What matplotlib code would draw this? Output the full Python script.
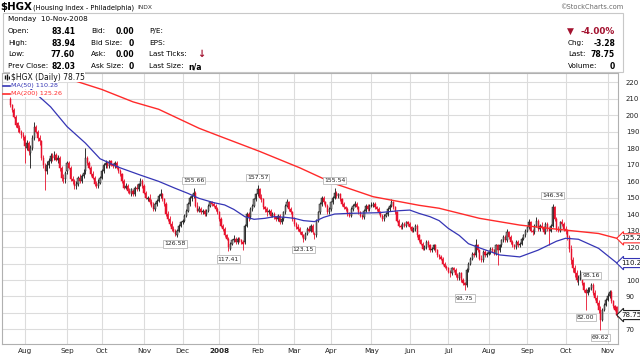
import numpy as np
import pandas as pd
import matplotlib
matplotlib.use('Agg')
import matplotlib.pyplot as plt
import matplotlib.transforms as mtransforms
from matplotlib.patches import Rectangle

# ---------------- data ----------------
start_date = '2007-07-20'
end_date = '2008-11-10'
holidays = ['2007-09-03', '2007-11-22', '2007-12-25', '2008-01-01', '2008-01-21',
            '2008-02-18', '2008-03-21', '2008-05-26', '2008-07-04', '2008-09-01']

open_ = [210,206,203,199,195,192,190,188,187,180,
         183,177,180,186,193,190,186,184,174,169,
         166,170,172,175,174,176,173,174,168,162,
         161,166,171,168,161,160,157,158,162,160,
         163,166,174,171,168,164,162,158,157,159,
         162,166,170,171,169,172,170,169,171,168,
         166,164,160,156,157,154,152,154,152,156,
         155,158,160,157,153,149,150,147,145,143,
         146,148,151,152,149,146,140,137,134,131,
         130,127,130,133,135,136,139,142,146,150,
         151,153,145,142,143,141,142,140,142,145,
         147,146,145,143,141,137,133,131,127,125,
         119,122,124,125,123,125,124,123,123,133,
         140,138,143,145,149,152,155,150,149,144,
         143,141,142,139,140,138,137,139,135,137,
         141,145,147,143,141,137,134,132,131,129,
         127,125,128,131,130,133,128,127,136,141,
         146,150,147,145,141,143,147,150,153,151,
         152,149,146,144,143,140,139,143,145,146,
         144,141,139,138,142,145,143,145,145,146,
         144,143,141,139,137,139,140,143,145,147,
         144,141,136,133,132,134,133,135,134,132,
         130,131,133,127,124,122,119,120,123,121,
         118,119,121,118,115,114,113,110,108,107,
         105,104,107,106,103,101,104,100,98,97,
         106,110,113,116,115,121,118,113,112,117,
         115,116,117,119,118,116,121,118,121,124,
         126,124,129,126,123,121,120,123,121,122,
         125,127,130,132,135,130,129,133,136,131,
         133,132,129,134,131,130,133,144,137,131,
         130,135,134,131,130,126,119,112,107,104,
         100,101,103,98,94,92,94,95,97,92,
         89,86,82,76,82,85,88,90,93,87,
         84,83.41]

high = [211,207,204,200,196,194,191,190,188,185,
        184,182,188,195.5,194,191,188,185,176,171,
        172,174,177,177,178,177,176,175,169,164,
        166,172,172,169,163,161,160,163,164,164,
        167,180,175,172,169,166,163,160,161,163,
        167,171,173,172,173,173,171,172,172,169,
        167,165,161,159,158,156,156,155,157,158,
        159,162,161,158,154,151,152,149,147,147,
        149,152,155,153,150,147,142,139,136,133,
        131,131,134,136,137,140,143,147,151,152,
        155.66,154,147,145,144,143,143,143,146,148,
        148,147,146,144,142,138,134,132,128,126,
        123,125,127,126,126,126,125,124,134,141,
        141,144,146,150,153,157.57,156,152,150,145,
        144,143,143,141,141,139,140,140,138,142,
        146,149,148,144,142,138,135,134,132,130,
        128,129,132,133,134,134,129,137,142,147,
        151,151,148,146,144,148,151,155.54,154,153,
        153,150,147,145,144,141,144,146,148,147,
        145,142,140,143,146,146,146,147,147,147,
        145,144,142,140,140,141,144,146,149,148,
        145,142,137,134,135,135,136,136,135,133,
        132,134,134,128,125,123,121,124,124,122,
        120,122,122,119,116,115,114,111,109,108,
        106,108,108,107,104,105,105,101,99,107,
        111,114,117,117,125,122,119,115,118,118,
        117,118,120,120,119,122,122,122,125,127,
        127,131,130,127,124,122,124,124,123,126,
        128,131,133,137,136,131,134,138,137,134,
        135,133,135,135,132,134,146.34,145,138,133,
        136,137,135,133,131,127,121,114,109,106,
        103,106,104,99,95,96,96,98.16,98,94,
        91,88,84,83,86,89,92,94,94,88,
        85,83.94]

low = [205,202,198,193,190,189,186,185,171,179,
       176,168,179,185,189,184,182,173,168,154.5,
       164,168,171,172,173,172,171,166,160,159,
       159,164,167,160,158,155,155,157,159,159,
       162,164,170,167,163,161,157,155.5,156,158,
       161,165,168,168,168,169,168,168,167,165,
       163,159,155,155,153,152,151,151,151,154,
       154,157,156,152,149,148,146,144,142,142,
       145,147,150,148,145,139,136,133,130,129,
       126.58,126,129,132,134,135,138,141,145,148,
       150,144,141,141,140,140,139,139,141,144,
       145,144,142,140,136,132,130,126,124,117.41,
       118,121,123,122,122,123,122,118,122,132,
       136,137,142,144,148,151,149,147,143,141,
       139,140,138,138,137,136,136,134,134,136,
       140,144,142,140,136,133,131,130,128,126,
       123.15,124,127,129,129,128,125,126,135,140,
       145,146,144,140,140,142,146,149,150,150,
       148,145,143,142,139,138,138,142,144,143,
       140,138,137,137,141,142,142,144,144,143,
       142,140,138,136,136,138,139,142,144,143,
       140,135,132,131,131,132,132,133,131,129,
       129,130,126,123,121,118,118,119,120,117,
       117,118,117,114,113,112,109,107,106,104,
       102,103,105,102,100,100,99,97,93.75,96,
       105,109,112,114,114,117,112,111,111,114,
       114,115,116,117,115,115,109,117,120,123,
       123,123,125,122,120,119,119,120,120,121,
       124,126,129,131,129,127,128,132,130,130,
       131,128,128,130,121,129,132,136,130,129,
       129,133,130,128,124,117,110,105,102,99,
       97,100,97,93,82.00,91,93,94,91,88,
       85,80,69.62,75,81,84,87,89,86,83,
       81,77.60]

close = [206,203,199,194,192,190,188,187,181,183,
         178,180,186,193,190,186,184,174,170,166,
         170,172,175,174,176,173,174,168,162,161,
         165,171,168,161,160,157,158,162,160,163,
         165,174,171,168,164,162,158,157,159,162,
         166,170,171,169,172,170,169,171,168,166,
         164,160,156,157,154,153,155,152,156,155,
         158,160,157,153,150,150,147,145,143,146,
         148,151,152,149,146,140,137,134,131,130,
         128,130,133,135,136,139,142,146,150,151,
         153,145,142,143,141,142,140,142,145,147,
         146,145,143,141,137,133,131,127,125,120,
         122,124,125,123,125,124,123,122,133,140,
         138,143,145,149,152,155,150,149,144,143,
         141,142,139,140,138,137,139,135,137,141,
         145,147,143,141,137,134,132,131,129,127,
         125,128,131,130,133,129,127,136,141,146,
         150,147,145,141,143,147,150,153,151,152,
         149,146,144,143,140,139,143,145,146,144,
         141,139,138,142,145,143,145,145,146,144,
         143,141,139,137,139,140,143,145,147,144,
         141,136,133,132,134,133,135,134,132,130,
         131,133,127,124,122,119,120,123,121,118,
         119,121,118,115,114,113,110,108,107,105,
         104,107,106,103,101,104,100,98,97,106,
         110,113,116,115,121,118,113,112,117,115,
         116,117,119,118,116,121,118,121,124,126,
         124,129,126,123,121,120,123,121,122,125,
         127,130,132,135,130,129,133,136,131,133,
         132,129,134,131,130,133,144,137,131,130,
         135,134,131,130,126,119,112,107,104,100,
         101,103,98,94,92,94,95,97,92,89,
         86,82,76,82,85,88,90,93,87,84,
         82.03,78.75]

# moving averages (trading-day number, value)
ma50_day = [0, 13, 22, 31, 41, 49, 54, 60, 71, 81, 90, 97, 103, 111, 117, 122, 128,
            133, 139, 144, 150, 155, 160, 166, 171, 177, 185, 201, 212, 218, 223, 229,
            234, 239, 245, 250, 256, 267, 278, 288, 298, 303, 310, 321, 331]
ma50_val = [227, 214, 205, 193, 183, 173.5, 171, 168, 163.6, 159.8, 155.6, 152.5, 149.5,
            146.9, 145.5, 142.8, 138.4, 136.8, 137.4, 138.4, 138, 137.4, 136, 135.4, 138,
            140, 140.4, 140.8, 142, 142.4, 140.4, 138.4, 136, 131.3, 127, 122, 119.5,
            115.2, 114, 118.1, 123.5, 125.3, 124.7, 119.2, 110.28]
ma200_day = [0, 14, 34, 50, 67, 81, 103, 114, 136, 158, 176, 198, 223, 234, 256, 278,
             299, 321, 331]
ma200_val = [228, 225.3, 221.2, 215.5, 208, 203.5, 192, 187.3, 178, 168, 158.8, 150.5,
             145.3, 143.5, 137.4, 133.3, 130.7, 128.2, 125.26]

# labelled highs (+1) and lows (-1)
ann_day = [90, 100, 119, 135, 160, 177, 248, 296, 314, 317, 322]
ann_side = [-1, 1, -1, 1, -1, 1, -1, 1, -1, 1, -1]

y_ticks = list(range(70, 230, 10))

# ---------------- figure ----------------
plt.rcParams['font.family'] = ['DejaVu Sans']
W, H = 640, 355
fig = plt.figure(figsize=(W / 100, H / 100), dpi=100)
fig.patch.set_facecolor('white')

bg = fig.add_axes([0, 0, 1, 1])
bg.set_xlim(0, W)
bg.set_ylim(H, 0)
bg.axis('off')

ax_l, ax_r, ax_t, ax_b = 2, 618, 73, 344
ax = fig.add_axes([ax_l / W, (H - ax_b) / H, (ax_r - ax_l) / W, (ax_b - ax_t) / H])
ax.set_facecolor('white')

top = fig.add_axes([0, 0, 1, 1])
top.set_xlim(0, W)
top.set_ylim(H, 0)
top.axis('off')
top.patch.set_alpha(0)

n = len(close)
dates = pd.bdate_range(start_date, end_date)
dates = dates[~dates.isin(pd.to_datetime(holidays))]
assert len(dates) == n
x = np.arange(n)

ax.set_xlim(-4.5, 331.6)
ax.set_ylim(61.2, 225.5)

# grid
grid_c = '#dcdcdc'
for v in y_ticks:
    ax.axhline(v, color=grid_c, lw=0.8, zorder=0)
per = dates.to_period('M')
starts = [i for i in range(1, n) if per[i] != per[i - 1]]
for s in starts:
    ax.axvline(s, color=grid_c, lw=0.8, zorder=0)

# candles
o = np.array(open_, float); h = np.array(high, float)
l = np.array(low, float); c = np.array(close, float)
prev = np.r_[o[0], c[:-1]]
up = c >= prev
col = np.where(up, '#111111', '#e8102c')
face = np.where(c > o, np.where(up, '#8a8a8a', '#f07080'), col)
ax.vlines(x, l, h, colors=col, lw=0.6, zorder=2)
body_lo = np.minimum(o, c)
body_h = np.maximum(np.abs(c - o), 0.4)
ax.bar(x, body_h, bottom=body_lo, width=0.62, color=face, edgecolor=col,
       linewidth=0.35, zorder=2)

# moving averages
ax.plot(ma200_day, ma200_val, color='#ff2a2a', lw=1.0, zorder=3)
ax.plot(ma50_day, ma50_val, color='#3535b5', lw=0.9, zorder=3)

# labels of highs / lows
for d, s in zip(ann_day, ann_side):
    v = h[d] if s > 0 else l[d]
    ax.annotate(f'{v:.2f}', xy=(d, v), xytext=(0, 5.6 * s), textcoords='offset points',
                ha='center', va='center', fontsize=4.4, color='#222222', zorder=6,
                bbox=dict(boxstyle='square,pad=0.18', fc='white', ec='#b8b8b8', lw=0.6))

# axes styling
for sp in ax.spines.values():
    sp.set_color('#b0b0b0')
    sp.set_linewidth(0.8)
ax.yaxis.tick_right()
ax.set_yticks(y_ticks)
# labels hidden where the value tags sit on top of them
ax.set_yticklabels(['' if v in (80, 110) else str(v) for v in y_ticks])
ax.tick_params(axis='y', length=0, pad=5.6, labelsize=5.0, colors='#222222')
ax.set_xticks(starts)
labs = []
for s in starts:
    labs.append(str(dates[s].year) if dates[s].month == 1 else dates[s].strftime('%b'))
ax.set_xticklabels(labs)
for t, s in zip(ax.get_xticklabels(), starts):
    if dates[s].month == 1:
        t.set_fontweight('bold')
ax.tick_params(axis='x', length=0, pad=2.6, labelsize=5.2, colors='#222222')

# right-hand value tags
tr = mtransforms.blended_transform_factory(ax.transAxes, ax.transData)
for val, ec in [(ma200_val[-1], '#ff2a2a'), (ma50_val[-1], '#3535b5'), (close[-1], '#222222')]:
    ax.text(1.006, val, f'{val:.2f}', transform=tr, ha='left', va='center', fontsize=5.0,
            color='#111111', clip_on=False, zorder=7,
            bbox=dict(boxstyle='larrow,pad=0.22', fc='white', ec=ec, lw=0.8))

# legend inside plot (drawn on the overlay so it sits above the lines)
top.vlines([4.5, 6.5, 8.5], [75, 74, 76], [79, 80, 79], colors='#111111', lw=1.0, zorder=5)
leg = [(f'$HGX (Daily) {close[-1]:.2f}', '#111111', 77, 5.5, None),
       (f'MA(50) {ma50_val[-1]:.2f}', '#3535b5', 85.5, 4.6, '#3535b5'),
       (f'MA(200) {ma200_val[-1]:.2f}', '#ff2a2a', 93.5, 4.6, '#ff2a2a')]
for txt, cc, yy, fs_, lc in leg:
    top.text(11, yy, txt, color=cc, fontsize=fs_, va='center', ha='left', zorder=6,
             bbox=dict(boxstyle='square,pad=0.08', fc='white', ec='none'))
    if lc:
        top.plot([3, 9.5], [yy, yy], color=lc, lw=1.2, zorder=6)

# ---------------- header ----------------
bg.text(0, 7, '$HGX', fontsize=7.4, fontweight='bold', va='center', ha='left')
bg.text(33, 7.5, '(Housing Index - Philadelphia)', fontsize=4.9, va='center', ha='left')
bg.text(137, 7.5, 'INDX', fontsize=4.3, va='center', ha='left', color='#333333')
bg.text(623, 7, '\u00a9StockCharts.com', fontsize=4.8, va='center', ha='right', color='#6a6a6a')
bg.add_patch(Rectangle((3, 13), 620, 59, fill=False, ec='#c8c8c8', lw=0.8))

fs = 5.2
bg.text(8, 19.5, 'Monday  10-Nov-2008', fontsize=fs, va='center', ha='left')
rows_y = [31, 43, 54.5, 66.5]
col1 = [('Open:', '83.41'), ('High:', '83.94'), ('Low:', '77.60'), ('Prev Close:', '82.03')]
col2 = [('Bid:', '0.00'), ('Bid Size:', '0'), ('Ask:', '0.00'), ('Ask Size:', '0')]
col3 = [('P/E:', ''), ('EPS:', ''), ('Last Ticks:', ''), ('Last Size:', 'n/a')]
for yy, (a, b), (cc2, d), (e, f) in zip(rows_y, col1, col2, col3):
    bg.text(8, yy, a, fontsize=fs, va='center', ha='left')
    bg.text(75, yy, b, fontsize=fs + 0.3, fontweight='bold', va='center', ha='right')
    bg.text(91, yy, cc2, fontsize=fs, va='center', ha='left')
    bg.text(134, yy, d, fontsize=fs + 0.3, fontweight='bold', va='center', ha='right')
    bg.text(149, yy, e, fontsize=fs, va='center', ha='left')
    if f:
        bg.text(188, yy, f, fontsize=fs + 0.3, fontweight='bold', va='center', ha='left')
bg.text(201, 54, '\u2193', fontsize=7, fontweight='bold', color='#a3122f', va='center', ha='center')

red_hdr = '#a3122f'
bg.text(567, 31, '\u25bc', fontsize=6.5, color=red_hdr, va='center', ha='left')
bg.text(615, 31, '-4.00%', fontsize=6.4, fontweight='bold', color=red_hdr, va='center', ha='right')
for yy, a, b in [(43, 'Chg:', '-3.28'), (54.5, 'Last:', '78.75'), (66.5, 'Volume:', '0')]:
    bg.text(568, yy, a, fontsize=fs, va='center', ha='left')
    bg.text(615, yy, b, fontsize=fs + 0.3, fontweight='bold', va='center', ha='right')

fig.savefig('out.png', dpi=100)
